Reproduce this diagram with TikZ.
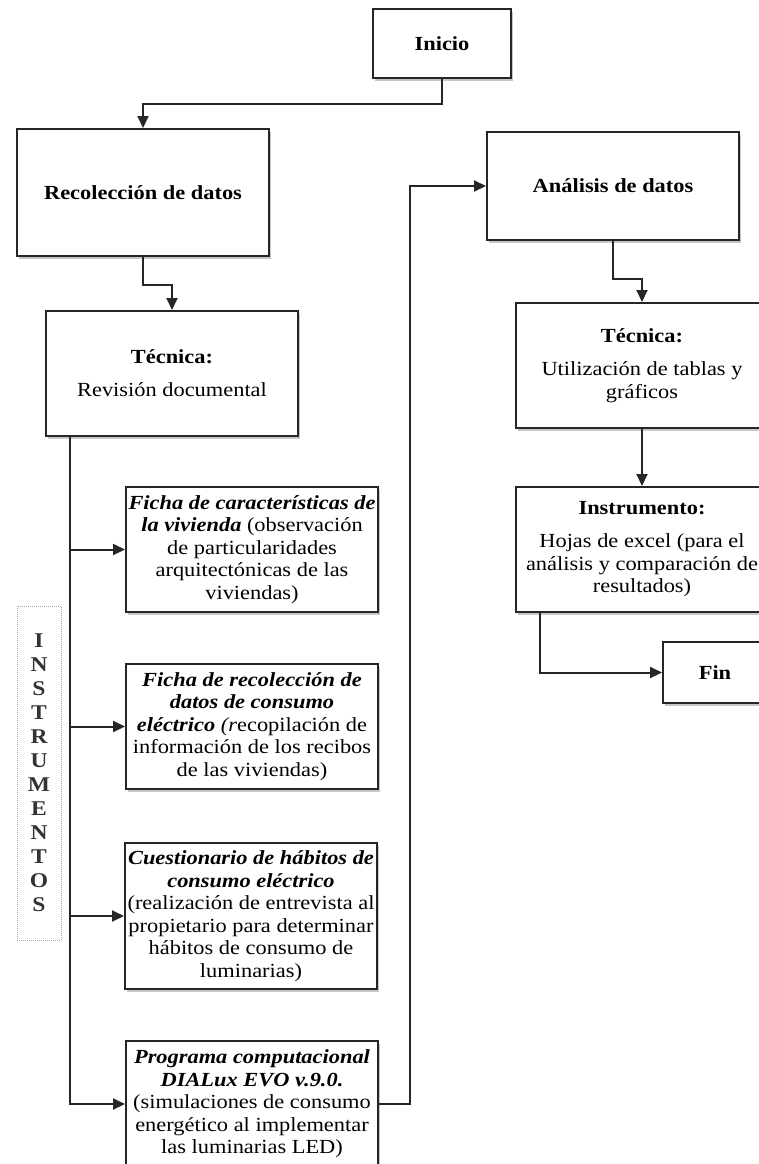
\documentclass[tikz,border=0pt]{standalone}
\usepackage{fontspec}
\setmainfont[FakeStretch=1.12]{Liberation Serif}
\usetikzlibrary{arrows.meta,shadows,calc}
\tikzset{
  box/.style={draw=black!85, line width=2pt, fill=white, inner sep=0pt, align=center,
    font=\fontsize{20}{22.5}\selectfont,
    drop shadow={shadow xshift=1.5pt, shadow yshift=-3pt, opacity=0.22, fill=black}},
  conn/.style={line width=2pt, draw=black!85},
  arr/.style={conn, -{Triangle[length=12pt,width=11pt]}},
  lbl/.style={draw=black!35, densely dotted, line width=1pt, inner sep=0pt, align=center,
    font=\fontsize{21}{24}\selectfont\bfseries, text=black!80}
}
\newcommand{\bi}[1]{\textbf{\textit{#1}}}
\begin{document}
\begin{tikzpicture}[x=1pt,y=-1pt]
\useasboundingbox (0,0) rectangle (759,1164);
\clip (0,0) rectangle (759,1164);
\fill[white] (0,0) rectangle (759,1164);

\node[box, minimum width=138pt, minimum height=69pt] (inicio) at (442,43.5) {\textbf{Inicio}};
\node[box, minimum width=252pt, minimum height=127pt] (recol) at (143,192.5) {\textbf{Recolección de datos}};
\node[box, minimum width=252pt, minimum height=108pt] (analisis) at (613,186) {\textbf{Análisis de datos}};

\node[box, minimum width=252pt, minimum height=125pt] (tec1) at (172,373.5)
  {\textbf{Técnica:}\\[10.5pt] Revisión documental};

\node[box, minimum width=252pt, minimum height=125pt] (f1) at (252,549.5)
  {\bi{Ficha de características de}\\ \bi{la vivienda} (observación\\ de particularidades\\ arquitectónicas de las\\ viviendas)};
\node[box, minimum width=252pt, minimum height=125pt] (f2) at (252,726.5)
  {\bi{Ficha de recolección de}\\ \bi{datos de consumo}\\ \bi{eléctrico} \textit{(r}ecopilación de\\ información de los recibos\\ de las viviendas)};
\node[box, minimum width=252pt, minimum height=146pt] (f3) at (251,916)
  {\bi{Cuestionario de hábitos de}\\ \bi{consumo eléctrico}\\ (realización de entrevista al\\ propietario para determinar\\ hábitos de consumo de\\ luminarias)};
\node[box, minimum width=252pt, minimum height=126pt] (f4) at (252,1104)
  {\bi{Programa computacional}\\ \bi{DIALux EVO v.9.0.}\\ (simulaciones de consumo\\ energético al implementar\\ las luminarias LED)};

\node[box, minimum width=252pt, minimum height=125pt] (tec2) at (642,365.5)
  {\textbf{Técnica:}\\[10.5pt] Utilización de tablas y\\ gráficos};
\node[box, minimum width=252pt, minimum height=125pt] (instr) at (642,549.5)
  {\textbf{Instrumento:}\\[10.5pt] Hojas de excel (para el\\ análisis y comparación de\\ resultados)};
\node[box, minimum width=104pt, minimum height=61pt] (fin) at (715,672.5) {\textbf{Fin}};

\node[lbl, minimum width=44pt, minimum height=334pt] (instrumentos) at (39,773)
  {I\\N\\S\\T\\R\\U\\M\\E\\N\\T\\O\\S};

% connectors
\draw[arr] (inicio.south) -- ++(0,25) -| (recol.north);
\draw[arr] (recol.south) -- ++(0,28) -| (tec1.north);
\draw[arr] (analisis.south) -- ++(0,38) -| (tec2.north);
\draw[arr] (tec2.south) -- (instr.north);
\coordinate (trunk) at ($(tec1.south west)+(25,0)$);
\draw[arr] (trunk) |- (f1.west);
\draw[arr] (trunk) |- (f2.west);
\draw[arr] (trunk) |- (f3.west);
\draw[arr] (trunk) |- (f4.west);
\draw[arr] (f4.east) -- ++(31,0) |- (analisis.west);
\coordinate (ibranch) at ($(instr.south west)+(25,0)$);
\draw[arr] (ibranch) |- (fin.west);
\end{tikzpicture}
\end{document}
